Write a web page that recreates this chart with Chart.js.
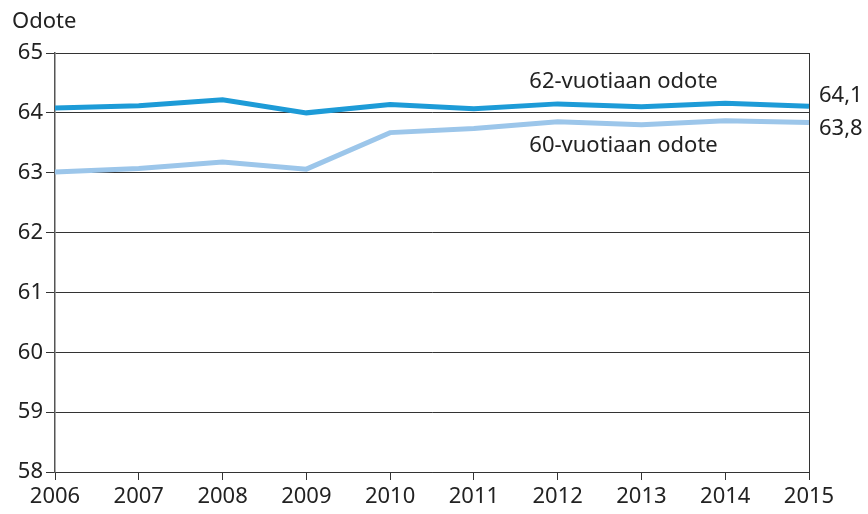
<!DOCTYPE html>
<html><head><meta charset="utf-8">
<script src="https://cdn.jsdelivr.net/npm/chart.js@4/dist/chart.umd.min.js"></script>
<style>html,body{margin:0;padding:0;background:#fff}#wrap{width:868px;height:514px}</style>
</head><body><div id="wrap"><canvas id="c" width="868" height="514"></canvas></div>
<script>
const years = ['2006','2007','2008','2009','2010','2011','2012','2013','2014','2015'];
const odote62 = [64.08, 64.12, 64.22, 64.0, 64.14, 64.07, 64.15, 64.1, 64.16, 64.11];
const odote60 = [63.01, 63.07, 63.18, 63.06, 63.67, 63.74, 63.85, 63.8, 63.87, 63.84];
const seriesNames = ['62-vuotiaan odote', '60-vuotiaan odote'];
const endLabels = ['64,1', '63,8'];
const yTitle = 'Odote';
const FONT = "'Noto Sans', 'Open Sans', sans-serif";

const annot = {
  id: 'annot',
  afterDraw(chart) {
    const {ctx, chartArea, scales} = chart;
    const x = scales.x, y = scales.y;
    ctx.save();
    ctx.strokeStyle = '#333'; ctx.lineWidth = 1;
    ctx.beginPath(); ctx.moveTo(Math.round(chartArea.right)+0.5, chartArea.top); ctx.lineTo(Math.round(chartArea.right)+0.5, chartArea.bottom); ctx.stroke();
    ctx.fillStyle = '#222';
    ctx.font = '22px ' + FONT;
    ctx.textBaseline = 'middle';
    ctx.textAlign = 'left';
    ctx.fillText(yTitle, 12, 22);
    ctx.textAlign = 'center';
    const mx = (x.getPixelForValue(6) + x.getPixelForValue(7)) / 2 + 24;
    ctx.fillText(seriesNames[0], mx, y.getPixelForValue(64.52));
    ctx.fillText(seriesNames[1], mx, y.getPixelForValue(63.45));
    ctx.textAlign = 'left';
    const last = years.length - 1;
    ctx.fillText(endLabels[0], chartArea.right + 10, y.getPixelForValue(odote62[last]) - 11);
    ctx.fillText(endLabels[1], chartArea.right + 10, y.getPixelForValue(odote60[last]) + 6);
    ctx.restore();
  }
};

new Chart(document.getElementById('c'), {
  type: 'line',
  data: {
    labels: years,
    datasets: [
      {label: seriesNames[1], data: odote60, borderColor: '#9cc6ea', borderWidth: 5, pointRadius: 0, tension: 0, fill: false},
      {label: seriesNames[0], data: odote62, borderColor: '#1d9bd7', borderWidth: 5, pointRadius: 0, tension: 0, fill: false}
    ]
  },
  options: {
    responsive: false,
    animation: false,
    layout: {padding: {top: 53, right: 59, left: 0, bottom: 0}},
    plugins: {legend: {display: false}, tooltip: {enabled: false}},
    scales: {
      x: {
        offset: false,
        afterFit(s) { s.height = 42; },
        grid: {drawOnChartArea: false, drawTicks: true, tickLength: 8, color: '#333', lineWidth: 1},
        border: {display: true, color: '#333', width: 1},
        ticks: {color: '#222', font: {family: FONT, size: 22}, padding: 4, maxRotation: 0, autoSkip: false}
      },
      y: {
        min: 58, max: 65,
        afterFit(s) { s.width = 55; },
        grid: {color: '#333', lineWidth: 1, drawTicks: true, tickLength: 9},
        border: {display: true, color: '#555', width: 1.5},
        ticks: {stepSize: 1, color: '#222', font: {family: FONT, size: 22}, padding: 3}
      }
    }
  },
  plugins: [annot]
});
</script></body></html>
